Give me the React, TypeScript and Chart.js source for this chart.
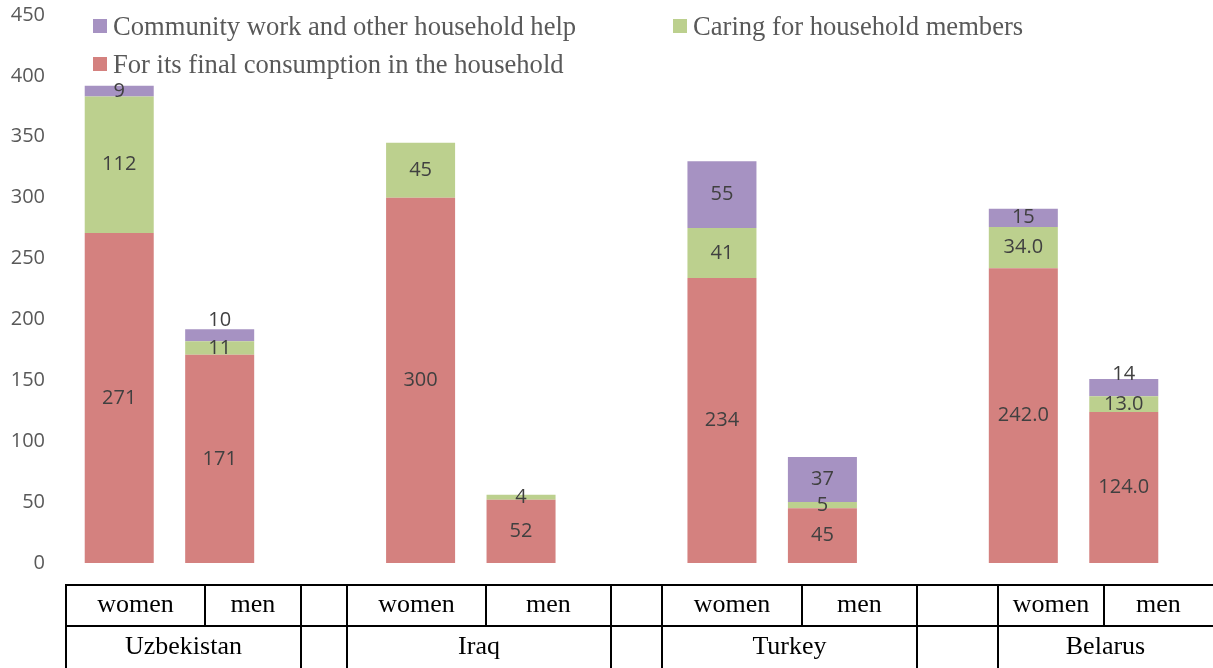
import React, { useEffect, useRef } from "react";
import { Chart, registerables } from "chart.js";

Chart.register(...registerables);

// ---------- data ----------
const categories = ["women", "men", "", "women", "men", "", "women", "men", "", "women", "men"];
const countries = ["Uzbekistan", "Iraq", "Turkey", "Belarus"];
const seriesNames = [
  "For its final consumption in the household",
  "Caring for household members",
  "Community work and other household help",
];
const finalConsumption = [271, 171, null, 300, 52, null, 234, 45, null, 242, 124];
const caringMembers = [112, 11, null, 45, 4, null, 41, 5, null, 34, 13];
const communityWork = [9, 10, null, null, null, null, 55, 37, null, 15, 14];
const finalLabels = ["271", "171", "", "300", "52", "", "234", "45", "", "242.0", "124.0"];
const caringLabels = ["112", "11", "", "45", "4", "", "41", "5", "", "34.0", "13.0"];
const communityLabels = ["9", "10", "", "", "", "", "55", "37", "", "15", "14"];
const yTicks = [0, 50, 100, 150, 200, 250, 300, 350, 400, 450];

// ---------- styles ----------
const COLORS = ["#D4817F", "#BCD08E", "#A692C2"];
const LABEL_FONT = "20px 'Open Sans'";
const SERIF = "'Liberation Serif', 'Times New Roman', serif";

const segLabelPlugin = {
  id: "segLabels",
  afterDatasetsDraw(chart: any) {
    const ctx = chart.ctx;
    const opts = chart.options.plugins.segLabels || {};
    const texts: string[][] = opts.texts || [];
    const nudge: Record<string, number> = opts.nudge || {};
    ctx.save();
    ctx.font = LABEL_FONT;
    ctx.fillStyle = "#404040";
    ctx.textAlign = "center";
    ctx.textBaseline = "middle";
    chart.data.datasets.forEach((_ds: any, di: number) => {
      const meta = chart.getDatasetMeta(di);
      meta.data.forEach((el: any, i: number) => {
        const t = texts[di] && texts[di][i];
        if (!t) return;
        const { x, y, base } = el.getProps(["x", "y", "base"], true);
        const dy = nudge[di + "-" + i] || 0;
        ctx.fillText(t, x, (y + base) / 2 + dy);
      });
    });
    ctx.restore();
  },
};

function ChartCanvas() {
  const ref = useRef<HTMLCanvasElement>(null);
  useEffect(() => {
    if (!ref.current) return;
    const chart = new Chart(ref.current, {
      type: "bar",
      data: {
        labels: categories,
        datasets: [
          { label: seriesNames[0], data: finalConsumption as any, backgroundColor: COLORS[0], borderWidth: 0 },
          { label: seriesNames[1], data: caringMembers as any, backgroundColor: COLORS[1], borderWidth: 0 },
          { label: seriesNames[2], data: communityWork as any, backgroundColor: COLORS[2], borderWidth: 0 },
        ],
      },
      options: {
        animation: false,
        responsive: false,
        devicePixelRatio: 1,
        datasets: { bar: { categoryPercentage: 1, barPercentage: 0.687 } },
        layout: { padding: { left: 0, right: 39, top: 15, bottom: 105 } },
        plugins: {
          legend: { display: false },
          tooltip: { enabled: false },
          segLabels: {
            texts: [finalLabels, caringLabels, communityLabels],
            nudge: { "2-1": -15, "2-10": -13 },
          },
        } as any,
        scales: {
          x: {
            stacked: true,
            display: false,
          },
          y: {
            stacked: true,
            min: 0,
            max: 450,
            afterFit(scale: any) {
              scale.width = 69;
              scale.paddingTop = 0;
              scale.paddingBottom = 0;
            },
            afterBuildTicks(scale: any) {
              scale.ticks = yTicks.map((v) => ({ value: v }));
            },
            grid: { display: false, drawTicks: false },
            border: { display: false },
            ticks: {
              padding: 24,
              color: "#595959",
              font: { family: "'Open Sans'", size: 20 },
            },
          },
        },
      },
      plugins: [segLabelPlugin],
    });
    return () => chart.destroy();
  }, []);
  return (
    <canvas
      ref={ref}
      width={1213}
      height={668}
      style={{ position: "absolute", left: 0, top: 0, width: 1213, height: 668 }}
    />
  );
}

const legendItems = [
  { color: COLORS[2], text: seriesNames[2], left: 93, top: 19 },
  { color: COLORS[1], text: seriesNames[1], left: 673, top: 19 },
  { color: COLORS[0], text: seriesNames[0], left: 93, top: 57 },
];

const fullLines = [66, 301, 347, 611, 662, 917, 998];
const topLines = [205, 486, 802, 1104];
const row1Cells: [number, number][] = [
  [66, 205], [205, 301], [347, 486], [486, 611], [662, 802], [802, 917], [998, 1104], [1104, 1213],
];
const row2Cells: [number, number][] = [
  [66, 301], [347, 611], [662, 917], [998, 1213],
];
const row1Texts = categories.filter((c) => c !== "");

export default function App() {
  const lineStyle = { position: "absolute" as const, background: "#000" };
  return (
    <div style={{ position: "absolute", left: 0, top: 0, width: 1213, height: 668, overflow: "hidden", background: "#fff" }}>
      <ChartCanvas />
      {legendItems.map((it, i) => (
        <React.Fragment key={i}>
          <div style={{ position: "absolute", left: it.left, top: it.top, width: 14, height: 14, background: it.color }} />
          <div
            style={{
              position: "absolute",
              left: it.left + 20,
              top: it.top - 6.5,
              font: `26.6px ${SERIF}`,
              lineHeight: "26px",
              color: "#595959",
              whiteSpace: "nowrap",
            }}
          >
            {it.text}
          </div>
        </React.Fragment>
      ))}
      {/* category table */}
      <div style={{ ...lineStyle, left: 66, top: 584, width: 1213 - 66, height: 2 }} />
      <div style={{ ...lineStyle, left: 66, top: 625, width: 1213 - 66, height: 2 }} />
      {fullLines.map((x, i) => (
        <div key={"f" + i} style={{ ...lineStyle, left: x - 1, top: 584, width: 2, height: 84 }} />
      ))}
      {topLines.map((x, i) => (
        <div key={"t" + i} style={{ ...lineStyle, left: x - 1, top: 584, width: 2, height: 42 }} />
      ))}
      {row1Cells.map(([a, b], i) => (
        <div
          key={"r1" + i}
          style={{
            position: "absolute",
            left: a,
            width: b - a,
            top: 591,
            textAlign: "center",
            font: `26px ${SERIF}`,
            lineHeight: "26px",
            color: "#000",
          }}
        >
          {row1Texts[i]}
        </div>
      ))}
      {row2Cells.map(([a, b], i) => (
        <div
          key={"r2" + i}
          style={{
            position: "absolute",
            left: a,
            width: b - a,
            top: 633,
            textAlign: "center",
            font: `26px ${SERIF}`,
            lineHeight: "26px",
            color: "#000",
          }}
        >
          {countries[i]}
        </div>
      ))}
    </div>
  );
}
